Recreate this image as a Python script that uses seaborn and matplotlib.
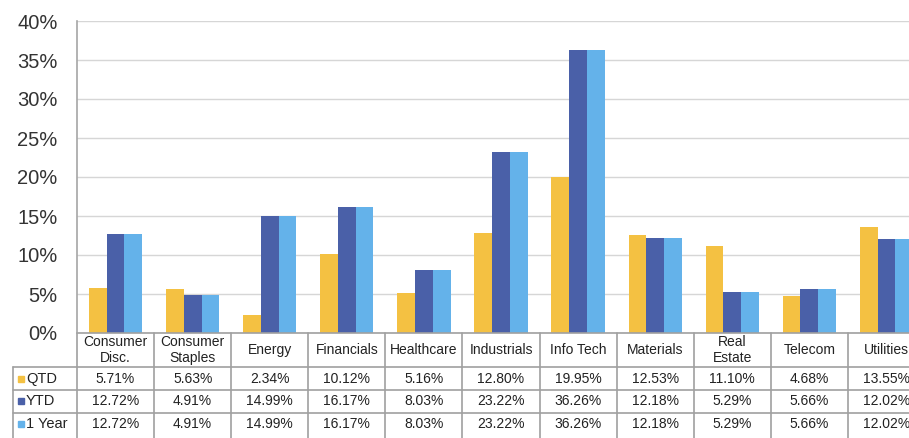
import pandas as pd
import seaborn as sns
from matplotlib import pyplot as plt
from matplotlib.transforms import blended_transform_factory

sectors = ['Consumer\nDisc.', 'Consumer\nStaples', 'Energy', 'Financials', 'Healthcare',
           'Industrials', 'Info Tech', 'Materials', 'Real\nEstate', 'Telecom', 'Utilities']
qtd = [5.71, 5.63, 2.34, 10.12, 5.16, 12.80, 19.95, 12.53, 11.10, 4.68, 13.55]
ytd = [12.72, 4.91, 14.99, 16.17, 8.03, 23.22, 36.26, 12.18, 5.29, 5.66, 12.02]
one_year = [12.72, 4.91, 14.99, 16.17, 8.03, 23.22, 36.26, 12.18, 5.29, 5.66, 12.02]
periods = ['QTD', 'YTD', '1 Year']
colors = ['#F4C142', '#4A60A8', '#64B2EA']
y_ticks = [0, 5, 10, 15, 20, 25, 30, 35, 40]

series = [qtd, ytd, one_year]
rows = []
for p, vals in zip(periods, series):
    for s, v in zip(sectors, vals):
        rows.append({'Sector': s, 'Period': p, 'Return': v})
df = pd.DataFrame(rows)

sns.set_theme(style="white")
plt.rcParams['font.family'] = ['Liberation Sans', 'DejaVu Sans']

fig = plt.figure(figsize=(9.09, 4.38), dpi=100)
ax = fig.add_axes([77 / 909, 105 / 438, 848 / 909, 312 / 438])

sns.barplot(data=df, x='Sector', y='Return', hue='Period', palette=colors,
            width=0.69, saturation=1, linewidth=0, legend=False, ax=ax)

ax.set_xlim(-0.5, len(sectors) - 0.5)
ax.set_ylim(0, 40)
ax.set_yticks(y_ticks)
ax.set_yticklabels([f'{t}%' for t in y_ticks], fontsize=14.5, color='#333333')
ax.tick_params(axis='y', length=0, pad=14)
ax.set_xticks([])
ax.set_xlabel('')
ax.set_ylabel('')
ax.yaxis.grid(True, color='#d6d6d6', linewidth=1)
ax.set_axisbelow(True)
for side in ['top', 'right', 'bottom']:
    ax.spines[side].set_visible(False)
ax.spines['left'].set_color('#a6a6a6')
ax.spines['left'].set_linewidth(1.2)

# data table below the chart (bottom edge falls just outside the image)
tr = blended_transform_factory(ax.transData, ax.transAxes)
line_kw = dict(color='#a0a0a0', linewidth=1.2, transform=tr, clip_on=False)
row_y = [0, -0.109, -0.183, -0.256, -0.345]
left = -1.33
n = len(sectors)
ax.plot([-0.5, n - 0.5], [row_y[0]] * 2, **line_kw)
for y in row_y[1:]:
    ax.plot([left, n - 0.5], [y, y], **line_kw)
for k in range(n + 1):
    ax.plot([k - 0.5, k - 0.5], [row_y[0], row_y[-1]], **line_kw)
ax.plot([left, left], [row_y[1], row_y[-1]], **line_kw)

for i, s in enumerate(sectors):
    ax.text(i, (row_y[0] + row_y[1]) / 2, s, transform=tr, ha='center', va='center',
            fontsize=10, color='#222222', linespacing=1.1, clip_on=False)

for r, (p, vals, c) in enumerate(zip(periods, series, colors)):
    yc = (row_y[r + 1] + min(row_y[r + 2], row_y[r + 1] - 0.073)) / 2
    if r == 2:
        yc = row_y[r + 1] - 0.037
    ax.plot([left + 0.1], [yc], marker='s', markersize=5, color=c, transform=tr, clip_on=False)
    ax.text(left + 0.17, yc, p, transform=tr, ha='left', va='center', fontsize=10.5,
            color='#222222', clip_on=False)
    for i, v in enumerate(vals):
        ax.text(i, yc, f'{v:.2f}%', transform=tr, ha='center', va='center',
                fontsize=10, color='#222222', clip_on=False)

fig.savefig('out.png', dpi=100, facecolor='white')
